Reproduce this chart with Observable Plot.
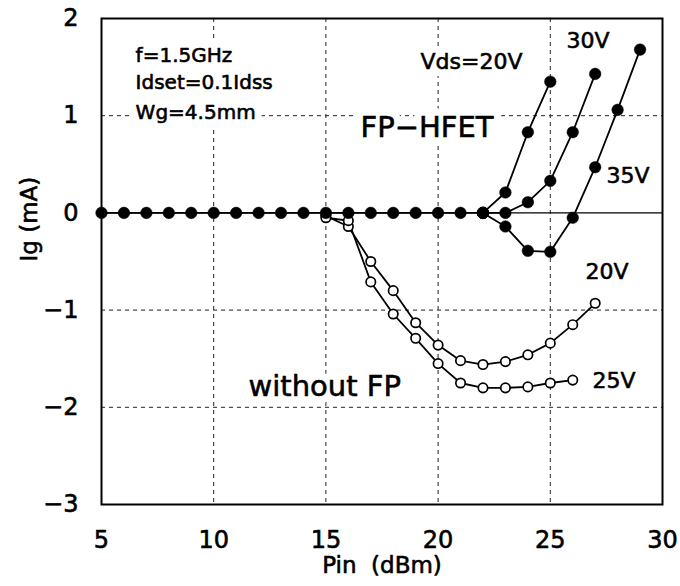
<!DOCTYPE html>
<html>
<head>
<meta charset="utf-8">
<script src="https://cdn.jsdelivr.net/npm/d3@7"></script>
<script src="https://cdn.jsdelivr.net/npm/@observablehq/plot@0.6"></script>
<style>
  html, body { margin: 0; padding: 0; background: #fff; }
  #chart svg { display: block; }
</style>
</head>
<body>
<div id="chart"></div>
<script>
// ---- Data ----
// FP-HFET common part (all Vds identical, Ig = 0)
const basePin = [5, 6, 7, 8, 9, 10, 11, 12, 13, 14, 15, 16, 17, 18, 19, 20, 21, 22];
const baseIg  = [0, 0, 0, 0, 0, 0, 0, 0, 0, 0, 0, 0, 0, 0, 0, 0, 0, 0];

// FP-HFET branches
const fp20Pin = [22, 23, 24, 25];
const fp20Ig  = [0, 0.21, 0.83, 1.35];
const fp30Pin = [22, 23, 24, 25, 26, 27];
const fp30Ig  = [0, 0.0, 0.11, 0.33, 0.83, 1.43];
const fp35Pin = [22, 23, 24, 25, 26, 27, 28, 29];
const fp35Ig  = [0, -0.14, -0.39, -0.40, -0.05, 0.47, 1.06, 1.68];

// without FP
const nf20Pin = [15, 16, 17, 18, 19, 20, 21, 22, 23, 24, 25, 26, 27];
const nf20Ig  = [-0.03, -0.14, -0.50, -0.80, -1.13, -1.36, -1.52, -1.56, -1.53, -1.46, -1.34, -1.15, -0.93];
const nf25Pin = [15, 16, 17, 18, 19, 20, 21, 22, 23, 24, 25, 26];
const nf25Ig  = [-0.05, -0.08, -0.71, -1.04, -1.29, -1.55, -1.75, -1.80, -1.80, -1.79, -1.75, -1.72];

const xTicks = [5, 10, 15, 20, 25, 30];
const yTicks = [2, 1, 0, -1, -2, -3];
const xGrid = [10, 15, 20, 25];
const yGrid = [1, -1, -2];

// Annotations (text + anchor point in data units)
const infoLines = ["f=1.5GHz", "Idset=0.1Idss", "Wg=4.5mm"];
const infoY = [1.614, 1.336, 1.028];
const infoX = 6.52;
const vLabels = [
  {text: "30V", x: 25.72, y: 1.768},
  {text: "35V", x: 27.50, y: 0.383},
  {text: "20V", x: 26.57, y: -0.608},
  {text: "25V", x: 26.88, y: -1.73}
];
const vdsLabel = {text: "Vds=20V", x: 23.76, y: 1.551};
const bigLabels = [
  {text: "FP\u2212HFET", x: 16.54, y: 0.873},
  {text: "without FP", x: 11.55, y: -1.79}
];

// ---- Build tables ----
const zip = (s, xs, ys) => xs.map((x, i) => ({series: s, pin: x, ig: ys[i]}));
const filled = [
  ...zip("base", basePin, baseIg),
  ...zip("fp20", fp20Pin, fp20Ig),
  ...zip("fp30", fp30Pin, fp30Ig),
  ...zip("fp35", fp35Pin, fp35Ig)
];
const open = [
  ...zip("nf20", nf20Pin, nf20Ig),
  ...zip("nf25", nf25Pin, nf25Ig)
];
const info = infoLines.map((t, i) => ({text: t, x: infoX, y: infoY[i]}));

const FONT = "DejaVu Sans";
const fmt = d => String(d).replace("-", "\u2212");

// each label group: a white halo pass (masks gridlines) and a dark ink pass
function labels(data, anchor, size) {
  const base = {x: "x", y: "y", text: "text", textAnchor: anchor, fontSize: size, lineAnchor: "middle", fontFamily: FONT};
  return [
    Plot.text(data, {...base, fill: "white", stroke: "white", strokeWidth: 15}),
    Plot.text(data, {...base, fill: "black", stroke: "black", strokeWidth: 0.6})
  ];
}

const chart = Plot.plot({
  width: 680,
  height: 586,
  marginLeft: 101,
  marginRight: 18,
  marginTop: 18,
  marginBottom: 82,
  style: {fontFamily: FONT, background: "white", color: "black"},
  x: {domain: [5, 30]},
  y: {domain: [-3, 2]},
  marks: [
    Plot.ruleX(xGrid, {stroke: "#222", strokeWidth: 1, strokeDasharray: "4,4"}),
    Plot.ruleY(yGrid, {stroke: "#222", strokeWidth: 1, strokeDasharray: "4,4"}),
    Plot.ruleY([0], {stroke: "black", strokeWidth: 1.3}),
    ...labels(info, "start", 20),
    ...labels(bigLabels, "start", 29),
    ...labels(vLabels, "start", 22),
    ...labels([vdsLabel], "end", 22),
    Plot.frame({stroke: "black", strokeWidth: 2}),
    Plot.line(open, {x: "pin", y: "ig", z: "series", stroke: "black", strokeWidth: 1.8}),
    Plot.dot(open, {x: "pin", y: "ig", r: 4.7, fill: "white", stroke: "black", strokeWidth: 1.7}),
    Plot.line(filled, {x: "pin", y: "ig", z: "series", stroke: "black", strokeWidth: 1.8}),
    Plot.dot(filled, {x: "pin", y: "ig", r: 5.8, fill: "black", stroke: "black", strokeWidth: 0.5}),
    Plot.axisX({ticks: xTicks, tickFormat: fmt, tickSize: 0, tickPadding: 26, fontSize: 24, label: null,
      fontFamily: FONT, textStroke: "black", textStrokeWidth: 0.6}),
    Plot.axisY({ticks: yTicks, tickFormat: fmt, tickSize: 0, tickPadding: 23, fontSize: 24, label: null,
      fontFamily: FONT, textStroke: "black", textStrokeWidth: 0.6}),
    Plot.text(["Ig (mA)"], {frameAnchor: "left", dx: -72, rotate: -90, fontSize: 23, fontFamily: FONT,
      fill: "black", stroke: "black", strokeWidth: 0.6}),
    Plot.text(["Pin  (dBm)"], {frameAnchor: "bottom", dy: 68, fontSize: 23, fontFamily: FONT,
      fill: "black", stroke: "black", strokeWidth: 0.6})
  ]
});

document.getElementById("chart").appendChild(chart);
</script>
</body>
</html>
